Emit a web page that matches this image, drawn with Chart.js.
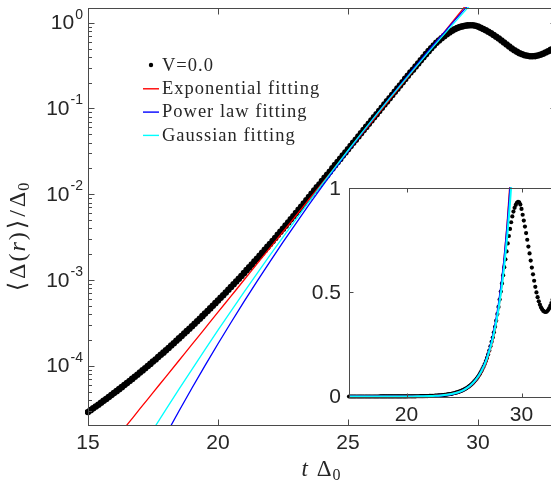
<!DOCTYPE html>
<html><head><meta charset="utf-8">
<script src="https://cdn.jsdelivr.net/npm/chart.js@4.4.1/dist/chart.umd.min.js"></script>
<style>
html,body{margin:0;padding:0;width:551px;height:480px;overflow:hidden;background:#fff;}
#main{position:absolute;left:0;top:0;width:570px;height:480px;}
#inset{position:absolute;left:300px;top:170px;width:270px;height:260px;}
</style></head><body>
<canvas id="main" width="570" height="480"></canvas>
<canvas id="inset" width="270" height="260"></canvas>
<script>
// ---------------- data ----------------
const times = [15.0,15.1,15.2,15.3,15.4,15.5,15.6,15.7,15.8,15.9,16.0,16.1,16.2,16.3,16.4,16.5,16.6,16.7,16.8,16.9,
17.0,17.1,17.2,17.3,17.4,17.5,17.6,17.7,17.8,17.9,18.0,18.1,18.2,18.3,18.4,18.5,18.6,18.7,18.8,18.9,
19.0,19.1,19.2,19.3,19.4,19.5,19.6,19.7,19.8,19.9,20.0,20.1,20.2,20.3,20.4,20.5,20.6,20.7,20.8,20.9,
21.0,21.1,21.2,21.3,21.4,21.5,21.6,21.7,21.8,21.9,22.0,22.1,22.2,22.3,22.4,22.5,22.6,22.7,22.8,22.9,
23.0,23.1,23.2,23.3,23.4,23.5,23.6,23.7,23.8,23.9,24.0,24.1,24.2,24.3,24.4,24.5,24.6,24.7,24.8,24.9,
25.0,25.1,25.2,25.3,25.4,25.5,25.6,25.7,25.8,25.9,26.0,26.1,26.2,26.3,26.4,26.5,26.6,26.7,26.8,26.9,
27.0,27.1,27.2,27.3,27.4,27.5,27.6,27.7,27.8,27.9,28.0,28.1,28.2,28.3,28.4,28.5,28.6,28.7,28.8,28.9,
29.0,29.1,29.2,29.3,29.4,29.5,29.6,29.7,29.8,29.9,30.0,30.1,30.2,30.3,30.4,30.5,30.6,30.7,30.8,30.9,
31.0,31.1,31.2,31.3,31.4,31.5,31.6,31.7,31.8,31.9,32.0,32.1,32.2,32.3,32.4,32.5,32.6,32.7,32.8,32.9,33.0];
const v00 = [2.88e-5,3.03e-5,3.18e-5,3.34e-5,3.51e-5,3.69e-5,3.89e-5,4.09e-5,4.31e-5,4.54e-5,
4.79e-5,5.05e-5,5.33e-5,5.62e-5,5.94e-5,6.27e-5,6.63e-5,7.01e-5,7.42e-5,7.85e-5,
8.32e-5,8.81e-5,9.34e-5,9.91e-5,1.05e-4,1.12e-4,1.18e-4,1.26e-4,1.34e-4,1.42e-4,
1.51e-4,1.61e-4,1.72e-4,1.83e-4,1.95e-4,2.08e-4,2.22e-4,2.37e-4,2.53e-4,2.70e-4,
2.88e-4,3.08e-4,3.30e-4,3.53e-4,3.78e-4,4.05e-4,4.34e-4,4.66e-4,4.99e-4,5.36e-4,
5.75e-4,6.18e-4,6.64e-4,7.14e-4,7.68e-4,8.27e-4,8.90e-4,9.59e-4,1.03e-3,1.11e-3,
1.20e-3,1.30e-3,1.40e-3,1.51e-3,1.64e-3,1.77e-3,1.91e-3,2.07e-3,2.24e-3,2.43e-3,
2.63e-3,2.85e-3,3.09e-3,3.36e-3,3.64e-3,3.96e-3,4.30e-3,4.68e-3,5.09e-3,5.54e-3,
6.03e-3,6.56e-3,7.15e-3,7.79e-3,8.49e-3,9.25e-3,1.01e-2,1.10e-2,1.20e-2,1.30e-2,
1.42e-2,1.55e-2,1.68e-2,1.83e-2,2.00e-2,2.18e-2,2.37e-2,2.58e-2,2.82e-2,3.07e-2,
3.34e-2,3.64e-2,3.97e-2,4.32e-2,4.71e-2,5.13e-2,5.59e-2,6.09e-2,6.63e-2,7.23e-2,
7.87e-2,8.57e-2,9.34e-2,0.1018,0.1109,0.1208,0.1316,0.1434,0.1562,0.1702,
0.1854,0.202,0.221,0.241,0.263,0.283,0.308,0.335,0.364,0.396,
0.430,0.466,0.504,0.543,0.582,0.621,0.659,0.697,0.735,0.771,
0.805,0.837,0.865,0.888,0.906,0.920,0.930,0.935,0.933,0.922,
0.901,0.873,0.845,0.816,0.785,0.753,0.720,0.687,0.653,0.619,
0.587,0.556,0.527,0.500,0.477,0.457,0.441,0.428,0.418,0.411,
0.407,0.406,0.408,0.414,0.423,0.435,0.449,0.465,0.482,0.500,0.520];
const fitTimes = [15,15.5,16,16.5,17,17.5,18,18.5,19,19.5,20,20.5,21,21.5,22,22.5,23,23.5,24,24.5,25,25.5,26,26.5,27,27.5,28,28.5,29,29.5,30];
const expFit = [5.58e-6,8.60e-6,1.325e-5,2.04e-5,3.15e-5,4.85e-5,7.47e-5,1.15e-4,1.77e-4,2.73e-4,4.21e-4,6.48e-4,9.98e-4,1.54e-3,2.37e-3,3.65e-3,5.62e-3,8.67e-3,1.335e-2,2.057e-2,3.169e-2,4.883e-2,7.52e-2,0.1159,0.1785,0.275,0.4238,0.6529,1.006,1.55,2.388];
const powFit = [2.31e-7,4.93e-7,1.03e-6,2.10e-6,4.19e-6,8.19e-6,1.572e-5,2.965e-5,5.50e-5,1.003e-4,1.803e-4,3.19e-4,5.58e-4,9.62e-4,1.637e-3,2.754e-3,4.58e-3,7.54e-3,1.227e-2,1.978e-2,3.157e-2,4.994e-2,7.826e-2,0.1217,0.1875,0.2867,0.4353,0.6555,0.9808,1.457,2.149];
const gaussFit = [1.04e-6,1.86e-6,3.31e-6,5.84e-6,1.026e-5,1.788e-5,3.095e-5,5.32e-5,9.08e-5,1.539e-4,2.592e-4,4.333e-4,7.19e-4,1.186e-3,1.942e-3,3.157e-3,5.10e-3,8.18e-3,1.302e-2,2.059e-2,3.233e-2,5.04e-2,7.81e-2,0.1201,0.1834,0.2781,0.4191,0.6268,0.931,1.373,2.012];
const mainXTicks = [15,20,25,30];
const mainYExps = [0,-1,-2,-3,-4];
const insetXTicks = [20,30];
const insetYTicks = [0,0.5,1];
const insetYLabels = ['0','0.5','1'];
const seriesLabels = ['V=0.0','Exponential fitting','Power law fitting','Gaussian fitting'];
const seriesColors = ['#000000','#ff0000','#0000ff','#00ffff'];

// ---------------- helpers ----------------
const AX = '#4a4a4a', TXT = '#262626';
const SANS = '"Liberation Sans", Arial, sans-serif';
const SERIF = '"Liberation Serif", "DejaVu Serif", serif';
function pts(xs, ys){ return xs.map((x,i)=>({x:x, y:ys[i]})); }
function datasets(dotR, lineW, dotClip){
  const ds = [{label:seriesLabels[0], data:pts(times,v00), showLine:false, pointRadius:dotR,
      pointBackgroundColor:seriesColors[0], pointBorderWidth:0, pointHoverRadius:dotR, order:4, clip:dotClip}];
  [expFit,powFit,gaussFit].forEach((arr,k)=>{
    ds.push({label:seriesLabels[k+1], data:pts(fitTimes,arr), showLine:true, pointRadius:0,
      borderColor:seriesColors[k+1], borderWidth:lineW, cubicInterpolationMode:'monotone', order:3-k, clip:1});
  });
  return ds;
}
function line(ctx,x1,y1,x2,y2){ ctx.beginPath(); ctx.moveTo(x1,y1); ctx.lineTo(x2,y2); ctx.stroke(); }
function rich(ctx, parts){
  let w=0; parts.forEach(p=>{ ctx.font=p.font; w+=ctx.measureText(p.t).width+(p.gap||0); }); return w;
}
function drawRich(ctx, parts, x, y){
  parts.forEach(p=>{ ctx.font=p.font; ctx.fillText(p.t, x, y+(p.dy||0)); x+=ctx.measureText(p.t).width+(p.gap||0); });
}

// ---------------- main chart ----------------
const mainDecor = {
  id:'mainDecor',
  beforeDraw(c){ const ctx=c.ctx; ctx.save(); ctx.fillStyle='#fff'; ctx.fillRect(0,0,c.width,c.height); ctx.restore(); },
  afterDraw(c){
    const ctx=c.ctx, a=c.chartArea, xs=c.scales.x, ys=c.scales.y;
    ctx.save();
    ctx.strokeStyle=AX; ctx.lineWidth=1;
    const L=Math.round(a.left)+0.5, R=Math.round(a.right)+0.5, T=Math.round(a.top)+0.5, B=Math.round(a.bottom)+0.5;
    ctx.strokeRect(L,T,R-L,B-T);
    mainXTicks.forEach(v=>{ const px=Math.round(xs.getPixelForValue(v))+0.5; line(ctx,px,B,px,B-6); line(ctx,px,T,px,T+6); });
    for(let e=-5;e<=0;e++){
      for(let m=1;m<=9;m++){
        const v=m*Math.pow(10,e); if(v<ys.min||v>ys.max) continue;
        const py=Math.round(ys.getPixelForValue(v))+0.5, len=(m===1)?6:3.5;
        line(ctx,L,py,L+len,py); line(ctx,R,py,R-len,py);
      }
    }
    ctx.fillStyle=TXT; ctx.textBaseline='middle';
    ctx.font='21px '+SANS; ctx.textAlign='center';
    mainXTicks.forEach(v=>{ ctx.fillText(String(v), xs.getPixelForValue(v), 443); });
    mainYExps.forEach(e=>{
      const py=ys.getPixelForValue(Math.pow(10,e));
      const sup = e<0 ? '-'+(-e) : String(e);
      ctx.font='14px '+SANS; const sw=ctx.measureText(sup).width;
      ctx.textAlign='left'; ctx.fillText(sup, 83-sw, py-8);
      ctx.font='21px '+SANS; ctx.textAlign='right'; ctx.fillText('10', 83-sw-1, py+1);
    });
    // x title
    ctx.textAlign='left'; ctx.textBaseline='alphabetic';
    const xt=[{t:'t',font:'italic 23px '+SERIF, gap:9},{t:'Δ',font:'23px '+SERIF, gap:1},{t:'0',font:'16px '+SERIF,dy:4}];
    drawRich(ctx, xt, 321-rich(ctx,xt)/2, 476);
    // y title (rotated)
    ctx.save(); ctx.translate(0,237); ctx.rotate(-Math.PI/2);
    const F='24px '+SERIF;
    const yt=[{t:'⟨',font:F,gap:3},{t:'Δ',font:F,gap:2},{t:'(',font:F,gap:2},{t:'r',font:'italic 24px '+SERIF,gap:2},
      {t:')',font:F,gap:3},{t:'⟩',font:F,gap:3},{t:'/',font:F,gap:3},{t:'Δ',font:F,gap:1},{t:'0',font:'16px '+SERIF,dy:4}];
    drawRich(ctx, yt, -rich(ctx,yt)/2, 25);
    ctx.restore();
    // legend
    ctx.textBaseline='middle'; ctx.textAlign='left';
    ctx.font='18.5px '+SERIF; try{ ctx.letterSpacing='1px'; }catch(e){}
    seriesLabels.forEach((lab,i)=>{
      const yy=65+23.3*i;
      if(i===0){ ctx.fillStyle=seriesColors[0]; ctx.beginPath(); ctx.arc(151,yy,2.2,0,Math.PI*2); ctx.fill(); }
      else { ctx.strokeStyle=seriesColors[i]; ctx.lineWidth=1.4; line(ctx,143,yy+0.5,159,yy+0.5); }
      ctx.fillStyle=TXT; ctx.fillText(lab, 162, yy+1);
    });
    try{ ctx.letterSpacing='0px'; }catch(e){}
    ctx.restore();
  }
};
new Chart(document.getElementById('main'), {
  type:'scatter',
  data:{ datasets: datasets(3.3, 1.3, 3) },
  options:{
    responsive:false, animation:false, devicePixelRatio:1,
    layout:{ padding:{left:88, top:8, right:14, bottom:55} },
    plugins:{ legend:{display:false}, tooltip:{enabled:false} },
    scales:{
      x:{ type:'linear', min:15, max:33, display:false },
      y:{ type:'logarithmic', min:2.034e-5, max:1.484, display:false }
    }
  },
  plugins:[mainDecor]
});

// ---------------- inset chart ----------------
const insetDecor = {
  id:'insetDecor',
  beforeDatasetsDraw(c){ const ctx=c.ctx, a=c.chartArea; ctx.save(); ctx.fillStyle='#fff'; ctx.fillRect(a.left,a.top,a.right-a.left,a.bottom-a.top); ctx.restore(); },
  afterDraw(c){
    const ctx=c.ctx, a=c.chartArea, xs=c.scales.x, ys=c.scales.y;
    ctx.save(); ctx.strokeStyle=AX; ctx.lineWidth=1;
    const L=Math.round(a.left)+0.5, R=Math.round(a.right)+0.5, T=Math.round(a.top)+0.5, B=Math.round(a.bottom)+0.5;
    ctx.strokeRect(L,T,R-L,B-T);
    insetXTicks.forEach(v=>{ const px=Math.round(xs.getPixelForValue(v))+0.5; line(ctx,px,B,px,B-4); line(ctx,px,T,px,T+4); });
    insetYTicks.forEach(v=>{ const py=Math.round(ys.getPixelForValue(v))+0.5; line(ctx,L,py,L+4,py); line(ctx,R,py,R-4,py); });
    ctx.fillStyle=TXT; ctx.font='21px '+SANS; ctx.textBaseline='middle';
    ctx.textAlign='center'; insetXTicks.forEach(v=>ctx.fillText(String(v), xs.getPixelForValue(v), 245));
    ctx.textAlign='right'; insetYTicks.forEach((v,i)=>ctx.fillText(insetYLabels[i], 41, ys.getPixelForValue(v)+1));
    ctx.restore();
  }
};
new Chart(document.getElementById('inset'), {
  type:'scatter',
  data:{ datasets: datasets(2.1, 2, 4) },
  options:{
    responsive:false, animation:false, devicePixelRatio:1,
    layout:{ padding:{left:49, top:18.3, right:14, bottom:33.5} },
    plugins:{ legend:{display:false}, tooltip:{enabled:false} },
    scales:{
      x:{ type:'linear', min:15, max:33, display:false },
      y:{ type:'linear', min:0, max:1, display:false }
    }
  },
  plugins:[insetDecor]
});
</script></body></html>
